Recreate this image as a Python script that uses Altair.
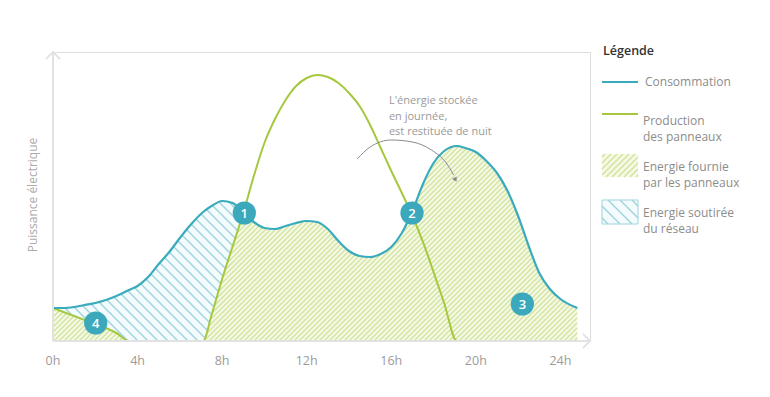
import altair as alt
import numpy as np
import pandas as pd

# ---------------- data ----------------
hours = [0, 0.5, 1, 1.5, 2, 2.5, 3, 3.6, 4, 4.5, 5, 5.5, 6, 6.5, 7.1, 7.5, 8, 8.5, 9,
         9.5, 10, 10.5, 11, 11.5, 12, 12.5, 13, 13.5, 14, 14.5, 15, 15.5, 16, 16.5,
         17, 17.5, 18, 18.5, 19.1, 19.5, 20, 20.5, 21, 21.5, 22, 22.5, 23, 23.5, 24, 24.8]
consommation = [33, 33, 34, 36, 38, 41, 45, 51, 55, 64, 77, 89, 103, 116, 129, 135, 140,
                138, 128, 119, 113, 112, 115, 118, 120, 119, 112, 100, 90, 85, 84, 87, 94,
                108, 130, 157, 178, 190, 195, 193, 189, 180, 168, 150, 125, 95, 68, 52, 42, 33]
production = [33, 29, 25, 21, 17, 13, 8, 0, 0, 0, 0, 0, 0, 0, 0, 26, 62, 95, 128, 165,
              198, 222, 241, 255, 263, 266, 264, 258, 248, 235, 216, 193, 170, 148, 125,
              99, 69, 38, 0, 0, 0, 0, 0, 0, 0, 0, 0, 0, 0, 0]
tick_hours = [0, 4, 8, 12, 16, 20, 24]
tick_labels = ["0h", "4h", "8h", "12h", "16h", "20h", "24h"]

circle_labels = ["1", "2", "3", "4"]
circle_h = [9.05, 16.98, 22.2, 2.02]
circle_v = [128, 128, 37, 18]

arrow_h = [14.39, 15.0, 16.0, 17.0, 17.9, 18.6, 18.95]
arrow_v = [182, 194, 201, 199, 191, 178, 166]
arrow_head = [19.02, 162]

note_text = "L'énergie stockée\nen journée,\nest restituée de nuit"
note_pos = [15.89, 240]
y_title = "Puissance électrique"
legend_title = "Légende"
legend_labels = ["Consommation", "Production\ndes panneaux",
                 "Energie fournie\npar les panneaux", "Energie soutirée\ndu réseau"]

# ---------------- styling ----------------
FONT = "Open Sans"
TEAL = "#3aabbd"
GREEN = "#a6c83e"
CIRCLE = "#3ba9bb"
AXIS = "#e2e2e2"
GREEN_TINT = "#f5f9e6"
GREEN_HATCH = "#d3e3a0"
BLUE_TINT = "#f3fbfc"
BLUE_HATCH = "#9fd4dd"
GREY_TXT = "#8c8c8c"

XMAX, YMAX = 25.4, 289
W, H = 537, 289
KX, KY = W / XMAX, H / YMAX


# ---- d3 curveMonotoneX, evaluated in numpy (used only to clip the hatching) ----
def mono_tangents(x, y):
    n = len(x)
    h = np.diff(x)
    s = np.diff(y) / h
    t = np.zeros(n)
    sg = lambda v: -1.0 if v < 0 else 1.0
    for i in range(1, n - 1):
        h0, h1, s0, s1 = h[i - 1], h[i], s[i - 1], s[i]
        p = (s0 * h1 + s1 * h0) / (h0 + h1)
        t[i] = (sg(s0) + sg(s1)) * min(abs(s0), abs(s1), 0.5 * abs(p))
    t[0] = (3 * s[0] - t[1]) / 2
    t[-1] = (3 * s[-1] - t[-2]) / 2
    return t


def mono_eval(x, y, xq):
    t = mono_tangents(x, y)
    idx = np.clip(np.searchsorted(x, xq, side="right") - 1, 0, len(x) - 2)
    x0, x1, y0, y1 = x[idx], x[idx + 1], y[idx], y[idx + 1]
    d = (x1 - x0) / 3
    c1 = y0 + d * t[idx]
    c2 = y1 - d * t[idx + 1]
    s = (xq - x0) / (x1 - x0)
    return (1 - s) ** 3 * y0 + 3 * (1 - s) ** 2 * s * c1 + 3 * (1 - s) * s ** 2 * c2 + s ** 3 * y1


h_arr = np.array(hours, float)
xq = np.linspace(0, hours[-1], 6000)
cons_d = mono_eval(h_arr, np.array(consommation, float), xq)
prod_d = mono_eval(h_arr, np.array(production, float), xq)
xc = xq[np.argmax((xq > 6) & (prod_d >= cons_d))]
green_top = np.where(xq < xc, np.minimum(prod_d, cons_d), cons_d)
green_bot = np.zeros_like(xq)
blue_top = np.where(xq < xc, cons_d, -1.0)
blue_bot = np.where(xq < xc, prod_d, 0.0)


def hatch(bot, top, slope, period):
    umax = xq[-1] * KX
    u = np.arange(0, umax, 0.25)
    lo = np.interp(u / KX, xq, bot) * KY
    hi = np.interp(u / KX, xq, top) * KY
    cs = np.arange(-H, umax, period) if slope > 0 else np.arange(period / 2, umax + H, period)
    rows = []
    for c in cs:
        v = u - c if slope > 0 else c - u
        ins = (v >= lo - 1e-9) & (v <= hi) & (v >= 0) & (v <= H)
        d = np.diff(np.concatenate([[0], ins.astype(int), [0]]))
        st = np.where(d == 1)[0]
        en = np.where(d == -1)[0] - 1
        for a, b in zip(st, en):
            if b - a >= 2:
                rows.append(dict(x=u[a] / KX, y=v[a] / KY, x2=u[b] / KX, y2=v[b] / KY))
    return pd.DataFrame(rows)


def swatch_hatch(x0, x1, y0, y1, slope, period):
    rows = []
    if slope > 0:  # "/" : y = c - x
        for c in np.arange(x0 + y0 + period / 2, x1 + y1, period):
            xa, xb = max(x0, c - y1), min(x1, c - y0)
            if xb > xa:
                rows.append(dict(x=xa, y=c - xa, x2=xb, y2=c - xb))
    else:  # "\" : y = x + c
        for c in np.arange(y0 - x1 + period / 2, y1 - x0, period):
            xa, xb = max(x0, y0 - c), min(x1, y1 - c)
            if xb > xa:
                rows.append(dict(x=xa, y=xa + c, x2=xb, y2=xb + c))
    return pd.DataFrame(rows)


green_h = hatch(green_bot, green_top, +1, 5.0)
blue_h = hatch(blue_bot, blue_top, -1, 10.0)

base_df = pd.DataFrame({"h": hours, "cons": consommation, "prod": production})
blue_df = base_df[base_df["h"] <= 9]

xs = alt.Scale(domain=[0, XMAX], nice=False, zero=False)
ys = alt.Scale(domain=[0, YMAX], nice=False)


def X(f):
    return alt.X(f, scale=xs, axis=None)


def Y(f):
    return alt.Y(f, scale=ys, axis=None)


green_fill = alt.Chart(base_df).mark_area(color=GREEN_TINT, interpolate="monotone").encode(
    x=X("h:Q"), y=Y("cons:Q"))
blue_fill = alt.Chart(blue_df).mark_area(color=BLUE_TINT, interpolate="monotone").encode(
    x=X("h:Q"), y=Y("prod:Q"), y2="cons:Q")
green_hatch = alt.Chart(green_h).mark_rule(color=GREEN_HATCH, strokeWidth=1.4).encode(
    x=X("x:Q"), y=Y("y:Q"), x2="x2:Q", y2="y2:Q")
blue_hatch = alt.Chart(blue_h).mark_rule(color=BLUE_HATCH, strokeWidth=1.4).encode(
    x=X("x:Q"), y=Y("y:Q"), x2="x2:Q", y2="y2:Q")
prod_line = alt.Chart(base_df).mark_line(color=GREEN, strokeWidth=2, interpolate="monotone").encode(
    x=X("h:Q"), y=Y("prod:Q"))
cons_line = alt.Chart(base_df).mark_line(color=TEAL, strokeWidth=2.2, interpolate="monotone").encode(
    x=X("h:Q"), y=Y("cons:Q"))

# ---- axes drawn as marks ----
axis_x = alt.Chart(pd.DataFrame({"h": [0], "h2": [XMAX], "v": [0]})).mark_rule(
    color=AXIS, strokeWidth=2).encode(x=X("h:Q"), x2="h2:Q", y=Y("v:Q"))
axis_y = alt.Chart(pd.DataFrame({"h": [0], "v": [0], "v2": [YMAX]})).mark_rule(
    color=AXIS, strokeWidth=2).encode(x=X("h:Q"), y=Y("v:Q"), y2="v2:Q")
tick_df = pd.DataFrame({"h": tick_hours, "lab": tick_labels, "v": [0] * len(tick_hours)})
tick_txt = alt.Chart(tick_df).mark_text(font=FONT, fontSize=12.5, color="#9b9b9b",
                                        baseline="middle", dy=20).encode(
    x=X("h:Q"), y=Y("v:Q"), text="lab:N")
yarrow = alt.Chart(pd.DataFrame({"h": [0], "v": [YMAX]})).mark_point(
    shape="M-1,1L0,0L1,1", filled=False, size=200, strokeWidth=1.8, color=AXIS, opacity=1).encode(
    x=X("h:Q"), y=Y("v:Q"))
xarrow = alt.Chart(pd.DataFrame({"h": [XMAX], "v": [0]})).mark_point(
    shape="M-1,-1L0,0L-1,1", filled=False, size=200, strokeWidth=1.8, color=AXIS, opacity=1).encode(
    x=X("h:Q"), y=Y("v:Q"))

arrow_df = pd.DataFrame({"h": arrow_h, "v": arrow_v})
arrow_line = alt.Chart(arrow_df).mark_line(color="#8a8a8a", strokeWidth=1, interpolate="monotone").encode(
    x=X("h:Q"), y=Y("v:Q"))
arrow_tip = alt.Chart(pd.DataFrame({"h": [arrow_head[0]], "v": [arrow_head[1]]})).mark_point(
    shape="triangle", filled=True, size=28, angle=151, color="#8a8a8a", opacity=1).encode(
    x=X("h:Q"), y=Y("v:Q"))

note = alt.Chart(pd.DataFrame({"t": [note_text], "h": [note_pos[0]], "v": [note_pos[1]]})).mark_text(
    align="left", baseline="middle", lineBreak="\n", lineHeight=15.5, font=FONT, fontSize=11,
    color="#9a9a9a").encode(x=X("h:Q"), y=Y("v:Q"), text="t:N")

circ_df = pd.DataFrame({"lab": circle_labels, "h": circle_h, "v": circle_v})
circles = alt.Chart(circ_df).mark_circle(size=540, color=CIRCLE, opacity=1).encode(
    x=X("h:Q"), y=Y("v:Q"))
circle_txt = alt.Chart(circ_df).mark_text(color="white", font=FONT, fontSize=13, fontWeight=600,
                                          baseline="middle", dy=0.5).encode(
    x=X("h:Q"), y=Y("v:Q"), text="lab:N")


def txt(s, x, y, **kw):
    style = dict(font=FONT, fontSize=12, color=GREY_TXT, align="left", baseline="middle",
                 lineBreak="\n", lineHeight=16)
    style.update(kw)
    return alt.Chart(pd.DataFrame({"t": [s]})).mark_text(**style).encode(
        text="t:N", x=alt.value(x), y=alt.value(y))


ytitle = txt(y_title, -20, 143, angle=270, align="center", color="#ababab", fontSize=12)

# ---- legend (pixel positions, right of plot) ----
LX0, LX1 = 549, 585
leg_title = txt(legend_title, 550, -1, color="#333333", fontWeight=600, fontSize=12.5)
leg_l1 = alt.Chart(pd.DataFrame({"a": [0]})).mark_rule(color=TEAL, strokeWidth=2).encode(
    x=alt.value(LX0), x2=alt.value(LX1), y=alt.value(30))
leg_l2 = alt.Chart(pd.DataFrame({"a": [0]})).mark_rule(color=GREEN, strokeWidth=2).encode(
    x=alt.value(LX0), x2=alt.value(LX1), y=alt.value(62))
leg_t1 = txt(legend_labels[0], 592, 30)
leg_t2 = txt(legend_labels[1], 590, 69)
leg_t3 = txt(legend_labels[2], 590, 115)
leg_t4 = txt(legend_labels[3], 590, 161)

g_sw = (102, 125)
b_sw = (148, 172)
leg_r3 = alt.Chart(pd.DataFrame({"a": [0]})).mark_rect(color=GREEN_TINT).encode(
    x=alt.value(LX0), x2=alt.value(LX1), y=alt.value(g_sw[0]), y2=alt.value(g_sw[1]))
leg_r4 = alt.Chart(pd.DataFrame({"a": [0]})).mark_rect(fill=BLUE_TINT, stroke=BLUE_HATCH, strokeWidth=1).encode(
    x=alt.value(LX0), x2=alt.value(LX1), y=alt.value(b_sw[0]), y2=alt.value(b_sw[1]))
sw_g = swatch_hatch(LX0, LX1, g_sw[0], g_sw[1], +1, 6.0)
sw_b = swatch_hatch(LX0, LX1, b_sw[0], b_sw[1], -1, 12.0)
leg_h3 = alt.Chart(sw_g).mark_rule(color=GREEN_HATCH, strokeWidth=1.6).encode(
    x=alt.X("x:Q", scale=None, axis=None), y=alt.Y("y:Q", scale=None, axis=None),
    x2="x2:Q", y2="y2:Q")
leg_h4 = alt.Chart(sw_b).mark_rule(color=BLUE_HATCH, strokeWidth=1.4).encode(
    x=alt.X("x:Q", scale=None, axis=None), y=alt.Y("y:Q", scale=None, axis=None),
    x2="x2:Q", y2="y2:Q")

chart = alt.layer(
    green_fill, blue_fill, green_hatch, blue_hatch, prod_line, cons_line,
    axis_x, axis_y, tick_txt, yarrow, xarrow,
    arrow_line, arrow_tip, note, circles, circle_txt, ytitle,
    leg_title, leg_l1, leg_l2, leg_t1, leg_t2, leg_t3, leg_t4,
    leg_r3, leg_r4, leg_h3, leg_h4,
).properties(
    width=W, height=H,
    padding={"left": 53, "top": 52, "right": 180, "bottom": 56},
    autosize=alt.AutoSizeParams(type="none"),
    background="white",
).configure_view(stroke=None).configure(font=FONT)

chart.save("out.html", embed_options={"renderer": "svg", "actions": False})
